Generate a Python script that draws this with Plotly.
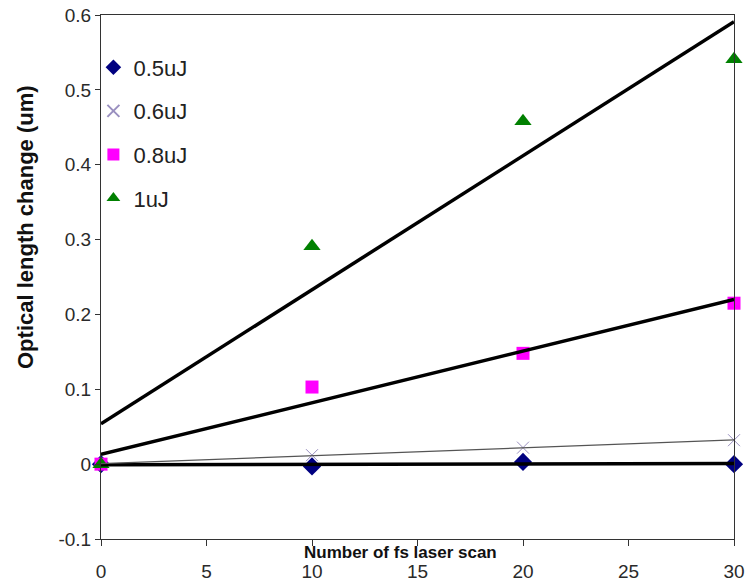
import numpy as np
import plotly.graph_objects as go

scans = [0, 10, 20, 30]
e05 = [0.0, -0.003, 0.003, 0.0]
e06 = [0.0, 0.012, 0.022, 0.032]
e08 = [0.0, 0.103, 0.148, 0.215]
e10 = [0.0, 0.291, 0.458, 0.541]
x_ticks = [0, 5, 10, 15, 20, 25, 30]
y_ticks = [-0.1, 0, 0.1, 0.2, 0.3, 0.4, 0.5, 0.6]

NARROW = "Liberation Sans Narrow, Arial Narrow, Liberation Sans, sans-serif"

series = [
    ("0.5uJ", e05, dict(symbol="diamond", color="#000080", size=14), dict(color="black", width=3.5)),
    ("0.6uJ", e06, dict(symbol="x-thin", color="#9a90c0", size=12, line=dict(color="#9a90c0", width=1)), dict(color="#555555", width=1.3)),
    ("0.8uJ", e08, dict(symbol="square", color="#ff00ff", size=13), dict(color="black", width=3.5)),
    ("1uJ", e10, dict(symbol="triangle-up", color="#008000", size=15), dict(color="black", width=3.5)),
]

fig = go.Figure()
xs = np.array(scans, dtype=float)
for name, ys, mk, ln in series:
    fig.add_trace(go.Scatter(x=scans, y=ys, mode="markers", name=name, marker=mk,
                             legendgroup=name, cliponaxis=False))
for name, ys, mk, ln in series:
    k, b = np.polyfit(xs, np.array(ys), 1)
    xl = [xs.min(), xs.max()]
    fig.add_trace(go.Scatter(x=xl, y=[k * v + b for v in xl], mode="lines", line=ln,
                             showlegend=False, hoverinfo="skip", cliponaxis=False))

W, H = 746, 585
L, R, T, B = 101, 12, 15, 46
PW, PH = W - L - R, H - T - B

fig.update_layout(
    width=W, height=H,
    paper_bgcolor="white", plot_bgcolor="white",
    margin=dict(l=L, r=R, t=T, b=B),
    font=dict(family=NARROW, color="#222222"),
    legend=dict(x=-0.012, y=0.94, xanchor="left", yanchor="top", bgcolor="rgba(0,0,0,0)",
                font=dict(size=22, color="#222222", family=NARROW), itemsizing="constant",
                tracegroupgap=12, itemwidth=30),
    showlegend=True,
)
fig.update_xaxes(range=[0, 30], tickvals=x_ticks, ticks="outside", ticklen=6, tickcolor="#333",
                 showline=True, linecolor="#333", linewidth=1, mirror=True, showgrid=False,
                 zeroline=False, tickfont=dict(size=19, color="#2a2a2a"), ticklabelstandoff=9,
                 automargin=False)
fig.update_yaxes(range=[-0.1, 0.6], tickvals=y_ticks, ticktext=[f"{v:g}" for v in y_ticks],
                 ticks="outside", ticklen=5, tickcolor="#333",
                 showline=True, linecolor="#333", linewidth=1, mirror=True, showgrid=False,
                 zeroline=False, tickfont=dict(size=19, color="#2a2a2a"), automargin=False)
fig.add_annotation(text="<b>Optical length change (um)</b>", xref="paper", yref="paper",
                   x=(25 - L) / PW, y=(H - B - 227) / PH, xanchor="center", yanchor="middle",
                   textangle=-90, showarrow=False,
                   font=dict(size=22, color="#111", family="Liberation Sans, Arial, sans-serif"))
fig.add_annotation(text="<b>Number of fs laser scan</b>", xref="paper", yref="paper",
                   x=(400 - L) / PW, y=0, yshift=-13, xanchor="center", yanchor="middle",
                   showarrow=False, font=dict(size=17, color="#111", family=NARROW))
fig.write_html("out.html", config={"displayModeBar": False},
               post_script="document.body.style.margin='0';")
